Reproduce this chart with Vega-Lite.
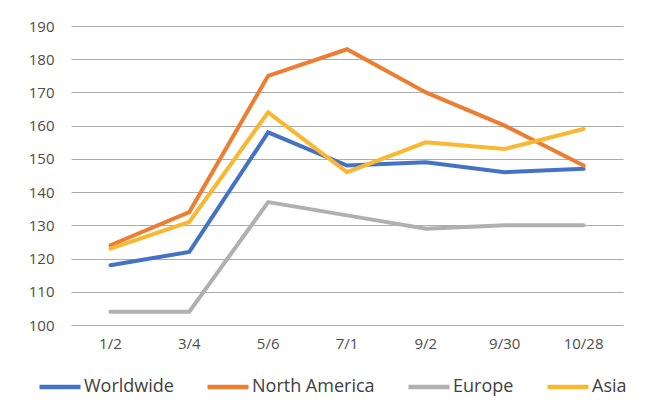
{
  "$schema": "https://vega.github.io/schema/vega-lite/v6.json",
  "width": 552,
  "height": 299,
  "autosize": {"type": "none"},
  "padding": {"left": 71, "top": 26, "right": 22, "bottom": 83},
  "background": "white",
  "config": {
    "view": {"stroke": null},
    "font": "Open Sans",
    "axis": {"labelFont": "Open Sans", "labelColor": "#4D4D4D", "labelFontSize": 15},
    "legend": {"labelFont": "Open Sans", "labelColor": "#404040", "labelFontSize": 18}
  },
  "data": {
    "values": [
      {"date": "1/2", "series": "Worldwide", "value": 118},
      {"date": "3/4", "series": "Worldwide", "value": 122},
      {"date": "5/6", "series": "Worldwide", "value": 158},
      {"date": "7/1", "series": "Worldwide", "value": 148},
      {"date": "9/2", "series": "Worldwide", "value": 149},
      {"date": "9/30", "series": "Worldwide", "value": 146},
      {"date": "10/28", "series": "Worldwide", "value": 147},
      {"date": "1/2", "series": "North America", "value": 124},
      {"date": "3/4", "series": "North America", "value": 134},
      {"date": "5/6", "series": "North America", "value": 175},
      {"date": "7/1", "series": "North America", "value": 183},
      {"date": "9/2", "series": "North America", "value": 170},
      {"date": "9/30", "series": "North America", "value": 160},
      {"date": "10/28", "series": "North America", "value": 148},
      {"date": "1/2", "series": "Europe", "value": 104},
      {"date": "3/4", "series": "Europe", "value": 104},
      {"date": "5/6", "series": "Europe", "value": 137},
      {"date": "7/1", "series": "Europe", "value": 133},
      {"date": "9/2", "series": "Europe", "value": 129},
      {"date": "9/30", "series": "Europe", "value": 130},
      {"date": "10/28", "series": "Europe", "value": 130},
      {"date": "1/2", "series": "Asia", "value": 123},
      {"date": "3/4", "series": "Asia", "value": 131},
      {"date": "5/6", "series": "Asia", "value": 164},
      {"date": "7/1", "series": "Asia", "value": 146},
      {"date": "9/2", "series": "Asia", "value": 155},
      {"date": "9/30", "series": "Asia", "value": 153},
      {"date": "10/28", "series": "Asia", "value": 159}
    ]
  },
  "mark": {"type": "line", "strokeWidth": 4, "strokeJoin": "miter", "strokeCap": "round"},
  "encoding": {
    "x": {
      "field": "date",
      "type": "ordinal",
      "sort": ["1/2", "3/4", "5/6", "7/1", "9/2", "9/30", "10/28"],
      "scale": {"type": "band", "paddingInner": 0, "paddingOuter": 0},
      "axis": {"title": null, "labelAngle": 0, "domain": false, "ticks": false, "grid": false, "labelPadding": 11, "labelFontSize": 15}
    },
    "y": {
      "field": "value",
      "type": "quantitative",
      "scale": {"domain": [100, 190], "nice": false, "zero": false},
      "axis": {"title": null, "values": [100, 110, 120, 130, 140, 150, 160, 170, 180, 190], "domain": false, "ticks": false, "grid": true, "gridColor": "#ABABAB", "gridWidth": 1, "labelPadding": 17, "labelFontSize": 15}
    },
    "color": {
      "field": "series",
      "type": "nominal",
      "sort": ["Worldwide", "North America", "Europe", "Asia"],
      "scale": {"domain": ["Worldwide", "North America", "Europe", "Asia"], "range": ["#4472C4", "#ED7D31", "#B0B0B0", "#F9B732"]},
      "legend": {"title": null, "orient": "none", "legendX": -34, "legendY": 338, "direction": "horizontal", "symbolType": "stroke", "symbolSize": 1681, "symbolStrokeWidth": 4.5, "labelOffset": 1, "columnPadding": 24, "labelFontSize": 18}
    }
  }
}
